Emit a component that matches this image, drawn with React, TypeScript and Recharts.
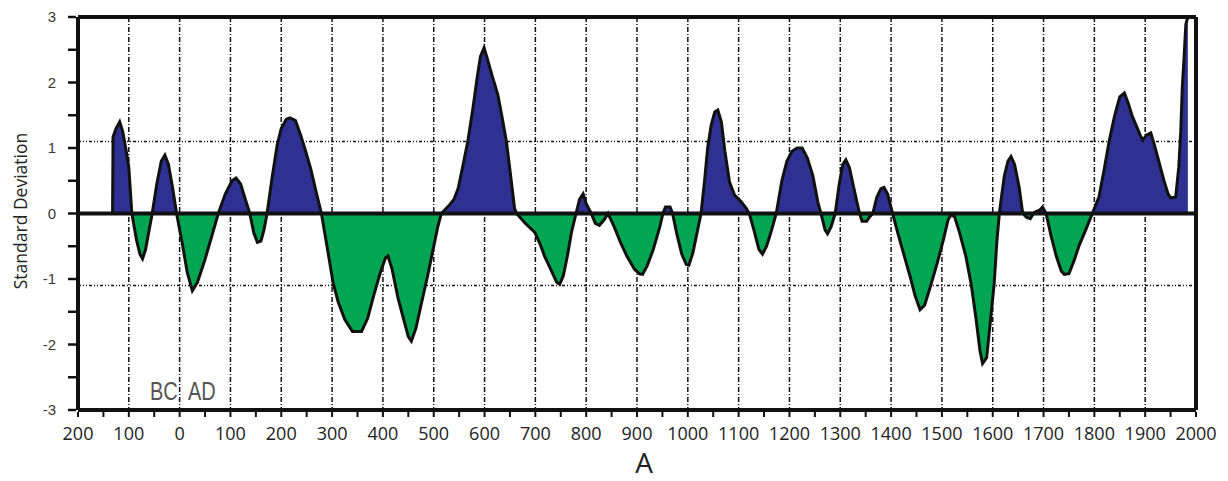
import {
  AreaChart,
  Area,
  XAxis,
  YAxis,
  CartesianGrid,
  ReferenceLine,
} from "recharts";

// year (negative = BC) and standard deviation
const years = [
  -132, -131, -125, -118, -112, -105, -100, -94, -85, -78, -73, -67, -60, -54,
  -45, -36, -29, -22, -14, -6, 5, 15, 25, 35, 50, 65, 76, 90, 103, 111, 120,
  130, 138, 146, 153, 160, 166, 172, 182, 192, 200, 210, 217, 228, 238, 248,
  258, 268, 279, 290, 302, 312, 325, 340, 358, 370, 382, 395, 405, 410, 418,
  430, 442, 450, 456, 465, 475, 488, 499, 508, 515, 530, 540, 548, 558, 567,
  577, 585, 592, 599, 606, 615, 626, 635, 643, 651, 659, 663, 680, 699, 710,
  718, 730, 742, 748, 755, 763, 771, 780, 787, 794, 800, 810, 818, 826, 835,
  843, 855, 868, 880, 895, 905, 911, 920, 932, 945, 951, 956, 965, 970, 978,
  988, 997, 1002, 1010, 1018, 1026, 1033, 1039, 1046, 1053, 1059, 1066, 1073,
  1082, 1092, 1105, 1115, 1121, 1130, 1140, 1147, 1155, 1165, 1174, 1185, 1195,
  1205, 1215, 1225, 1235, 1246, 1256, 1262, 1270, 1275, 1282, 1290, 1298, 1305,
  1311, 1318, 1325, 1332, 1338, 1343, 1352, 1358, 1364, 1372, 1380, 1386, 1393,
  1403, 1415, 1426, 1437, 1447, 1457, 1466, 1478, 1491, 1503, 1512, 1518, 1525,
  1535, 1547, 1558, 1567, 1575, 1580, 1588, 1596, 1603, 1608, 1613, 1618, 1623,
  1630, 1636, 1643, 1652, 1659, 1667, 1674, 1680, 1685, 1692, 1698, 1705, 1715,
  1725, 1735, 1741, 1750, 1760, 1770, 1783, 1796, 1809, 1820, 1829, 1840, 1850,
  1859, 1866, 1874, 1882, 1890, 1895, 1903, 1911, 1918, 1927, 1937, 1945, 1950,
  1960, 1966, 1970, 1973, 1977, 1980, 1984,
];

const deviation = [
  0, 1.17, 1.3, 1.4, 1.25, 0.95, 0.7, 0, -0.4, -0.62, -0.69, -0.55, -0.25, 0,
  0.45, 0.8, 0.89, 0.75, 0.4, 0, -0.45, -0.9, -1.18, -1.05, -0.7, -0.3, 0, 0.3,
  0.5, 0.54, 0.45, 0.2, 0, -0.3, -0.44, -0.42, -0.25, 0, 0.55, 1.05, 1.3, 1.44,
  1.46, 1.42, 1.2, 0.95, 0.68, 0.35, 0, -0.5, -1.06, -1.35, -1.62, -1.8, -1.8,
  -1.6, -1.25, -0.9, -0.68, -0.65, -0.85, -1.3, -1.65, -1.88, -1.95, -1.75,
  -1.4, -0.95, -0.54, -0.2, 0, 0.12, 0.22, 0.38, 0.75, 1.1, 1.6, 2.05, 2.4,
  2.53, 2.35, 2.1, 1.82, 1.45, 1.1, 0.6, 0.08, 0, -0.15, -0.29, -0.48, -0.65,
  -0.85, -1.05, -1.08, -0.95, -0.65, -0.29, 0, 0.22, 0.3, 0.15, 0, -0.15,
  -0.18, -0.1, 0, -0.2, -0.45, -0.65, -0.85, -0.92, -0.93, -0.8, -0.55, -0.2,
  0, 0.1, 0.1, 0, -0.3, -0.62, -0.78, -0.79, -0.6, -0.3, 0, 0.5, 1.0, 1.35,
  1.55, 1.58, 1.4, 0.95, 0.48, 0.28, 0.18, 0.08, 0, -0.25, -0.55, -0.62, -0.5,
  -0.25, 0, 0.5, 0.8, 0.95, 1.0, 1.0, 0.85, 0.58, 0.17, 0, -0.25, -0.31, -0.2,
  0, 0.45, 0.75, 0.82, 0.7, 0.45, 0.2, 0, -0.12, -0.12, -0.05, 0, 0.25, 0.38,
  0.4, 0.3, 0, -0.35, -0.65, -0.95, -1.25, -1.47, -1.4, -1.1, -0.75, -0.4,
  -0.1, -0.02, -0.05, -0.3, -0.65, -1.1, -1.6, -2.1, -2.29, -2.2, -1.6, -1.06,
  -0.44, 0, 0.3, 0.58, 0.8, 0.87, 0.75, 0.4, 0, -0.06, -0.08, 0, 0.03, 0.05,
  0.1, 0, -0.35, -0.65, -0.88, -0.93, -0.92, -0.72, -0.49, -0.25, 0, 0.25, 0.7,
  1.1, 1.5, 1.78, 1.84, 1.7, 1.5, 1.35, 1.2, 1.12, 1.2, 1.23, 1.05, 0.79, 0.5,
  0.3, 0.24, 0.25, 0.7, 1.25, 1.92, 2.45, 2.89, 3.0,
];

const yearTicks = [
  -200, -150, -100, -50, 0, 50, 100, 150, 200, 250, 300, 350, 400, 450, 500,
  550, 600, 650, 700, 750, 800, 850, 900, 950, 1000, 1050, 1100, 1150, 1200,
  1250, 1300, 1350, 1400, 1450, 1500, 1550, 1600, 1650, 1700, 1750, 1800, 1850,
  1900, 1950, 2000,
];
const gridYears = [
  -100, 0, 100, 200, 300, 400, 500, 600, 700, 800, 900, 1000, 1100, 1200, 1300,
  1400, 1500, 1600, 1700, 1800, 1900,
];
const sdTicks = [-3, -2.5, -2, -1.5, -1, -0.5, 0, 0.5, 1, 1.5, 2, 2.5, 3];
const bandLevels = [-1.1, 1.1];

const data = years.map((year, i) => ({ year, value: deviation[i] }));
const top = Math.max(...deviation);
const bottom = Math.min(...deviation);
const split = top / (top - bottom);

function YearTick({ x, y, payload }: any) {
  const v = payload.value;
  return (
    <g>
      <line x1={x} x2={x} y1={y + 2} y2={y + 7} stroke="#111" strokeWidth={2} />
      {v % 100 === 0 && (
        <text
          x={x}
          y={y + 30}
          textAnchor="middle"
          fontSize={18}
          fontFamily="Open Sans"
          fill="#222"
        >
          {Math.abs(v)}
        </text>
      )}
    </g>
  );
}

function SdTick({ x, y, payload }: any) {
  const v = payload.value;
  return (
    <g>
      <line x1={x - 10} x2={x - 2} y1={y} y2={y} stroke="#111" strokeWidth={2.5} />
      {Number.isInteger(v) && (
        <text
          x={x - 22}
          y={y + 5}
          textAnchor="end"
          fontSize={15}
          fontFamily="Liberation Sans"
          fill="#3a3a3a"
        >
          {v}
        </text>
      )}
    </g>
  );
}

const labelStyle = {
  position: "absolute" as const,
  top: 371,
  fontFamily: "'Liberation Sans'",
  fontSize: 25,
  lineHeight: 1,
  color: "#555",
  transform: "scaleX(0.8)",
  transformOrigin: "left top",
};

export default function App() {
  return (
    <div style={{ position: "relative", width: 1212, height: 465 }}>
      <AreaChart
        width={1212}
        height={465}
        data={data}
        margin={{ top: 9, right: 24, bottom: 23, left: 10 }}
      >
        <defs>
          <linearGradient id="sdSplit" x1="0" y1="0" x2="0" y2="1">
            <stop offset={split} stopColor="#2E3192" />
            <stop offset={split} stopColor="#00A651" />
          </linearGradient>
        </defs>
        <CartesianGrid
          horizontal={false}
          verticalValues={gridYears}
          stroke="#111"
          strokeWidth={1.5}
          strokeDasharray="5 2 1 2"
        />
        <CartesianGrid
          vertical={false}
          horizontalValues={bandLevels}
          stroke="#111"
          strokeWidth={1.5}
          strokeDasharray="3 2 1 2 1 2"
        />
        <XAxis
          dataKey="year"
          type="number"
          domain={[-200, 2000]}
          ticks={yearTicks}
          interval={0}
          height={40}
          tickSize={0}
          tickMargin={0}
          tick={<YearTick />}
          axisLine={{ stroke: "#111", strokeWidth: 4 }}
        />
        <YAxis
          type="number"
          domain={[-3, 3]}
          ticks={sdTicks}
          interval={0}
          width={60}
          tickSize={0}
          tickMargin={0}
          tick={<SdTick />}
          axisLine={{ stroke: "#111", strokeWidth: 4 }}
        />
        <Area
          type="linear"
          dataKey="value"
          baseValue={0}
          stroke="#111"
          strokeWidth={3}
          fill="url(#sdSplit)"
          fillOpacity={1}
          dot={false}
          activeDot={false}
          isAnimationActive={false}
        />
        <ReferenceLine y={0} stroke="#111" strokeWidth={4} />
        <ReferenceLine y={3} stroke="#111" strokeWidth={4} />
        <ReferenceLine x={2000} stroke="#111" strokeWidth={4} />
      </AreaChart>
      <div
        style={{
          position: "absolute",
          left: 12,
          top: 203,
          transform: "translate(-50%, -50%) rotate(-90deg)",
          whiteSpace: "nowrap",
          fontFamily: "Open Sans",
          fontSize: 17.5,
          color: "#222",
        }}
      >
        Standard Deviation
      </div>
      <div style={{ ...labelStyle, left: 142 }}>BC</div>
      <div style={{ ...labelStyle, left: 180 }}>AD</div>
      <div
        style={{
          position: "absolute",
          left: 636,
          top: 440,
          transform: "translateX(-50%)",
          fontFamily: "Open Sans",
          fontSize: 28,
          lineHeight: 1,
          color: "#222",
        }}
      >
        A
      </div>
    </div>
  );
}
